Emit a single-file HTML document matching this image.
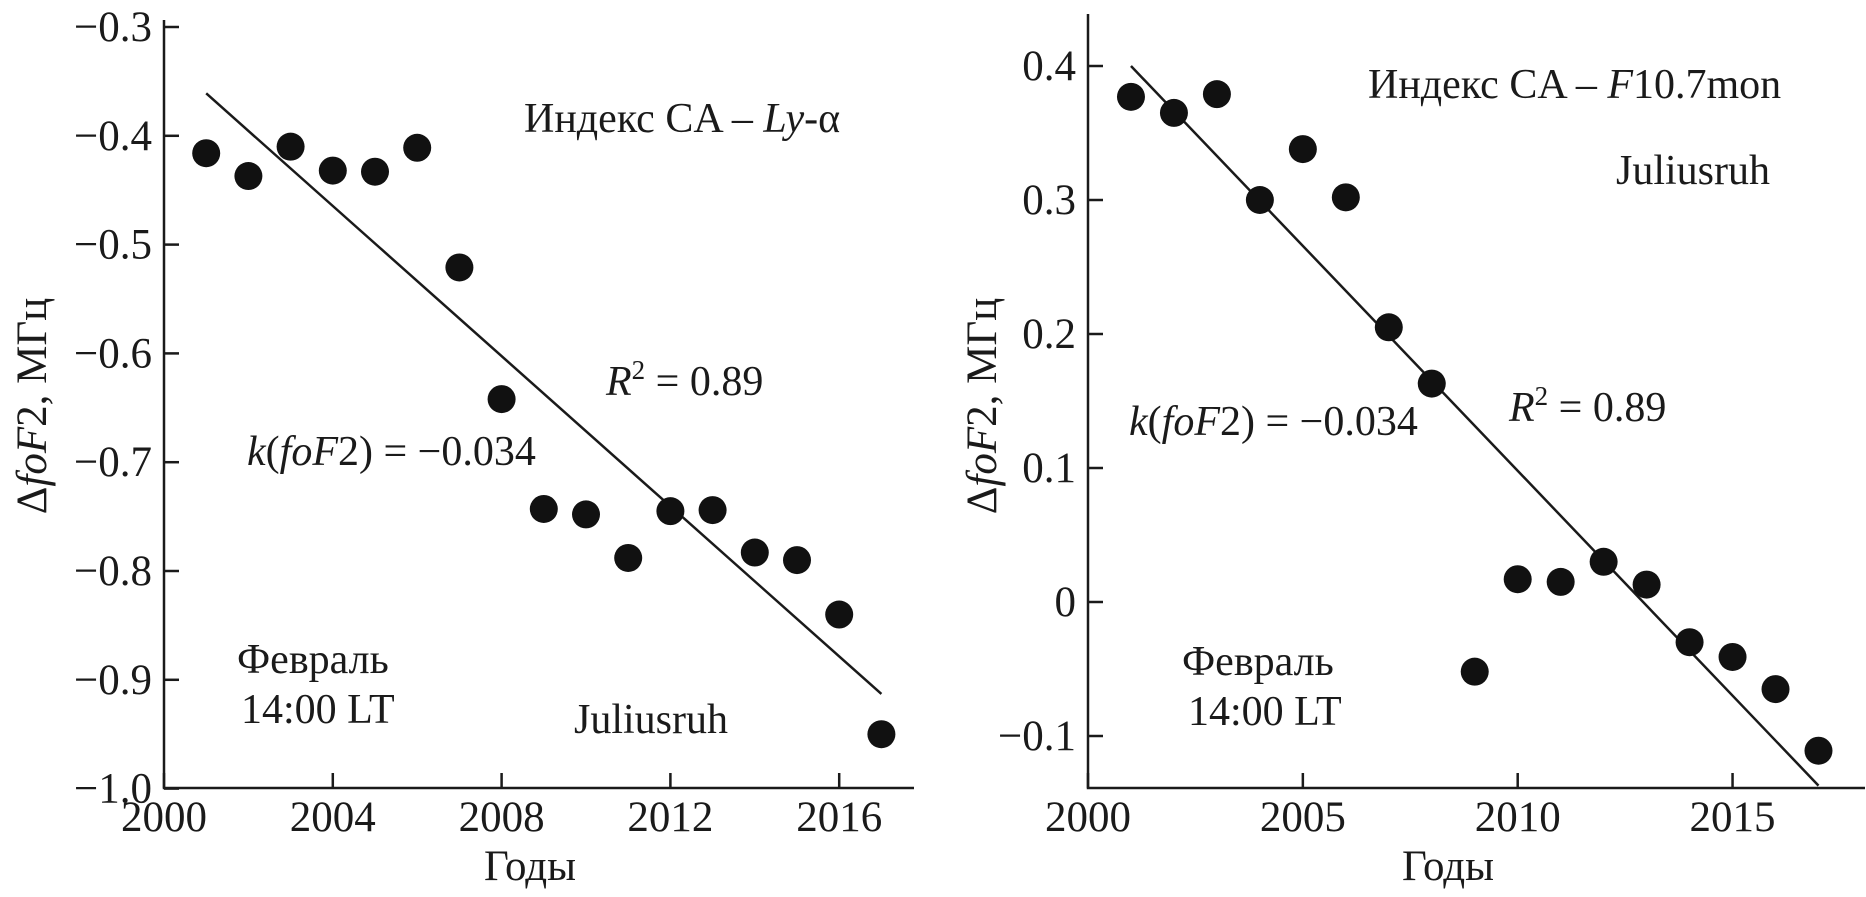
<!DOCTYPE html>
<html><head><meta charset="utf-8"><style>
html,body{margin:0;padding:0;background:#fff;}
svg{display:block;font-family:"Liberation Serif","DejaVu Serif",serif;}
text{fill:#1a1a1a;}
</style></head><body>
<svg id="chart" width="1866" height="897" viewBox="0 0 1866 897" xmlns="http://www.w3.org/2000/svg"></svg>
<script>
const years = [2001,2002,2003,2004,2005,2006,2007,2008,2009,2010,2011,2012,2013,2014,2015,2016,2017];
const leftValues = [-0.416,-0.437,-0.410,-0.432,-0.433,-0.411,-0.521,-0.642,-0.743,-0.748,-0.788,-0.745,-0.744,-0.783,-0.790,-0.840,-0.950];
const rightValues = [0.377,0.365,0.379,0.300,0.338,0.302,0.205,0.163,-0.052,0.017,0.015,0.030,0.013,-0.030,-0.041,-0.065,-0.111];
const leftTrend = [-0.361,-0.913];
const rightTrend = [0.400,-0.137];
const leftYTicks = [-0.3,-0.4,-0.5,-0.6,-0.7,-0.8,-0.9,-1.0];
const leftYLabels = ["\u22120.3","\u22120.4","\u22120.5","\u22120.6","\u22120.7","\u22120.8","\u22120.9","\u22121.0"];
const leftXTicks = [2000,2004,2008,2012,2016];
const rightYTicks = [0.4,0.3,0.2,0.1,0,-0.1];
const rightYLabels = ["0.4","0.3","0.2","0.1","0","\u22120.1"];
const rightXTicks = [2000,2005,2010,2015];

const NS="http://www.w3.org/2000/svg";
const svg=document.getElementById('chart');
function mk(tag,attrs,parent){const e=document.createElementNS(NS,tag);for(const k in attrs)e.setAttribute(k,attrs[k]);(parent||svg).appendChild(e);return e;}

function panel(cfg){
  const g=mk('g',{});
  
  
  const xs=v=>cfg.x0+(v-2000)*cfg.pxYear;
  const ys=v=>cfg.yRef+(cfg.vRef-v)*cfg.pxUnit;
  const ax=mk('path',{d:`M${cfg.x0} ${cfg.axTop} V${cfg.axBottom} H${cfg.axRight}`,fill:'none',stroke:'#1a1a1a','stroke-width':2.5},g);
  
  
  cfg.yTicks.forEach((v,i)=>{
    const y=ys(v);
    const t=mk('line',{x1:cfg.x0,x2:cfg.x0+15,y1:y,y2:y,stroke:'#1a1a1a','stroke-width':2.5},g);
    
    
    const l=mk('text',{x:cfg.x0-12,y:y+14,'text-anchor':'end','font-size':43},g);
    l.textContent=cfg.yLabels[i];
    
    
  });
  cfg.xTicks.forEach(v=>{
    const x=xs(v);
    const t=mk('line',{x1:x,x2:x,y1:cfg.axBottom,y2:cfg.axBottom-15,stroke:'#1a1a1a','stroke-width':2.5},g);
    
    
    const l=mk('text',{x:x,y:cfg.axBottom+43,'text-anchor':'middle','font-size':43},g);
    l.textContent=String(v);
    
    
  });
  const tr=mk('line',{x1:xs(years[0]),y1:ys(cfg.trend[0]),x2:xs(years[years.length-1]),y2:ys(cfg.trend[1]),stroke:'#1a1a1a','stroke-width':2.5},g);
  
  
  years.forEach((yr,i)=>{
    const c=mk('ellipse',{cx:xs(yr),cy:ys(cfg.values[i]),rx:14,ry:14,fill:'#111'},g);
    
    
  });
  const yl=mk('text',{x:0,y:0,'font-size':43,'text-anchor':'middle',transform:`translate(${cfg.ylx},406) rotate(-90)`},g);
  yl.innerHTML='\u0394<tspan font-style="italic">foF</tspan>2, МГц';
  
  
  const xl=mk('text',{x:cfg.xlx,y:880,'font-size':43,'text-anchor':'middle'},g);
  xl.textContent='Годы';
  
  
  cfg.texts.forEach(tx=>{
    const t=mk('text',{x:tx.x,y:tx.y,'font-size':42},g);
    t.innerHTML=tx.html;
    
    
  });
}

panel({name:'left-panel',x0:164,pxYear:42.2,yRef:27,vRef:-0.3,pxUnit:1088,axTop:20,axBottom:788,axRight:914,
  yTicks:leftYTicks,yLabels:leftYLabels,xTicks:leftXTicks,values:leftValues,trend:leftTrend,ylx:46,xlx:530,
  texts:[
    {name:'index-label',x:524,y:132,html:'Индекс CA \u2013 <tspan font-style="italic">Ly</tspan>-\u03b1'},
    {name:'r2-label',x:606,y:395,html:'<tspan font-style="italic">R</tspan><tspan font-size="27" dy="-16">2</tspan><tspan dy="16"> = 0.89</tspan>'},
    {name:'slope-label',x:247,y:465,html:'<tspan font-style="italic">k</tspan>(<tspan font-style="italic">foF</tspan>2) = \u22120.034'},
    {name:'month-label',x:237,y:673,html:'Февраль'},
    {name:'time-label',x:241,y:723,html:'14:00 LT'},
    {name:'station-label',x:574,y:733,html:'Juliusruh'}
  ]});
panel({name:'right-panel',x0:1088,pxYear:42.97,yRef:66,vRef:0.4,pxUnit:1340,axTop:14,axBottom:788,axRight:1865,
  yTicks:rightYTicks,yLabels:rightYLabels,xTicks:rightXTicks,values:rightValues,trend:rightTrend,ylx:996,xlx:1448,
  texts:[
    {name:'index-label',x:1368,y:98,html:'Индекс CA \u2013 <tspan font-style="italic">F</tspan>10.7mon'},
    {name:'station-label',x:1616,y:184,html:'Juliusruh'},
    {name:'slope-label',x:1129,y:435,html:'<tspan font-style="italic">k</tspan>(<tspan font-style="italic">foF</tspan>2) = \u22120.034'},
    {name:'r2-label',x:1509,y:421,html:'<tspan font-style="italic">R</tspan><tspan font-size="27" dy="-16">2</tspan><tspan dy="16"> = 0.89</tspan>'},
    {name:'month-label',x:1182,y:675,html:'Февраль'},
    {name:'time-label',x:1188,y:725,html:'14:00 LT'}
  ]});
</script>
</body></html>
